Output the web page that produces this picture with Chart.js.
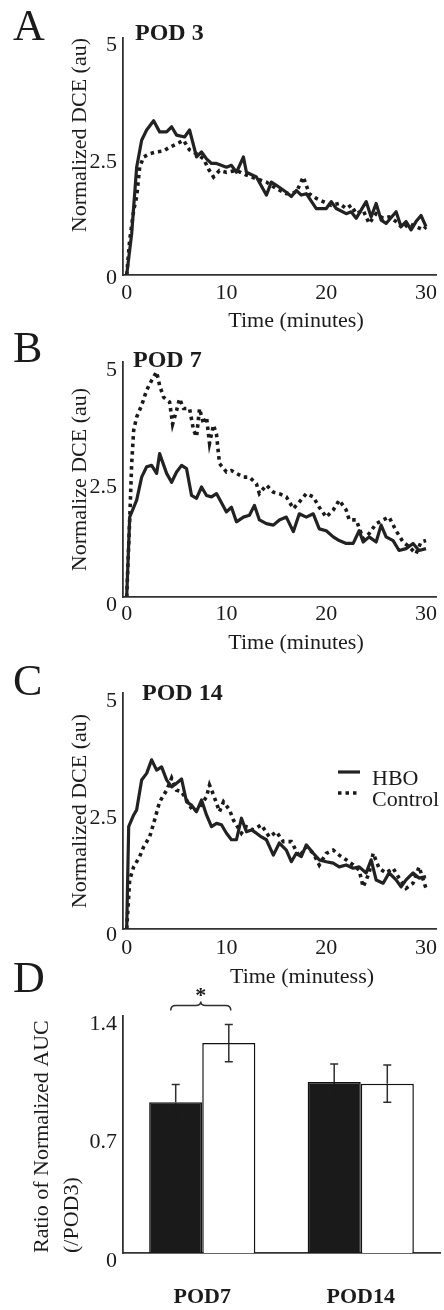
<!DOCTYPE html>
<html>
<head>
<meta charset="utf-8">
<title>Normalized DCE curves and AUC ratio</title>
<script src="https://cdn.jsdelivr.net/npm/chart.js@4.4.1/dist/chart.umd.min.js"></script>
<style>
  html, body { margin: 0; padding: 0; background: #fff; }
  #wrap { position: relative; width: 444px; height: 1310px; overflow: hidden; }
  #wrap canvas { position: absolute; left: 0; }
</style>
</head>
<body>
<div id="wrap">
  <canvas id="podA" width="444" height="340" style="top:0px"></canvas>
  <canvas id="podB" width="444" height="330" style="top:330px"></canvas>
  <canvas id="podC" width="444" height="340" style="top:655px"></canvas>
  <canvas id="aucD" width="444" height="355" style="top:955px"></canvas>
</div>
<script>
/* DCE enhancement curves (A-C) and AUC ratio bars (D) */

// ---- data ----
const seriesNames = ['HBO', 'Control'];
const timeTicks = [0, 10, 20, 30];
const dceTicks = [0, 2.5, 5];
const aucTicks = [0, 0.7, 1.4];

// POD 3
const pod3HboTime = [0, 0.5, 1, 1.5, 2, 2.7, 3.3, 4, 4.5, 5, 5.8, 6.3, 7, 7.5, 8, 8.5, 9, 10, 10.5, 11, 11.7, 12, 13, 14, 14.5, 15, 16, 16.5, 17, 17.5, 18, 19, 20, 20.5, 21, 22, 22.5, 23, 24, 24.5, 25, 25.5, 26, 27, 27.5, 28, 28.5, 29, 29.5, 30];
const pod3HboDce = [0, 0.89, 2.32, 2.90, 3.12, 3.32, 3.08, 3.08, 3.19, 3.01, 2.97, 3.12, 2.54, 2.65, 2.50, 2.40, 2.40, 2.32, 2.36, 2.21, 2.54, 2.21, 2.11, 1.72, 2.00, 1.93, 1.78, 1.69, 1.82, 1.72, 1.75, 1.43, 1.43, 1.58, 1.43, 1.32, 1.36, 1.22, 1.58, 1.25, 1.54, 1.18, 1.11, 1.36, 1.04, 1.15, 0.97, 1.15, 1.28, 1.04];
const pod3CtrlTime = [0, 0.3, 0.7, 1, 1.3, 1.7, 2.3, 3, 3.7, 4.3, 5, 5.7, 6.3, 7, 7.7, 8.2, 8.7, 9.3, 10, 11, 12, 13, 14, 15, 16, 17, 17.7, 18.3, 19, 19.7, 20.5, 21.3, 22, 22.5, 23, 23.7, 24.3, 25, 25.7, 26.3, 27, 27.7, 28.3, 29, 29.7, 30];
const pod3CtrlDce = [0, 0.75, 1.39, 1.69, 2.32, 2.54, 2.61, 2.65, 2.67, 2.75, 2.82, 2.90, 2.69, 2.61, 2.50, 2.28, 2.11, 2.25, 2.21, 2.25, 2.15, 2.07, 2.00, 1.86, 1.75, 1.78, 2.11, 1.75, 1.65, 1.58, 1.50, 1.54, 1.43, 1.50, 1.32, 1.39, 1.11, 1.32, 1.22, 1.25, 1.15, 1.00, 1.11, 1.04, 0.97, 1.04];

// POD 7
const pod7HboTime = [0, 0.3, 1, 1.5, 2, 2.5, 3, 3.3, 4, 4.5, 5, 5.5, 6, 6.5, 7, 7.5, 8, 8.5, 9, 10, 10.5, 11, 11.7, 12.3, 12.8, 13.3, 14, 14.7, 15.3, 16, 16.7, 17.3, 18, 18.7, 19.3, 20, 20.7, 21.3, 22, 22.7, 23.3, 23.7, 24.3, 25, 25.5, 26, 26.7, 27.3, 28, 28.7, 29.3, 30];
const pod7HboDce = [0, 1.70, 2.06, 2.55, 2.77, 2.80, 2.63, 3.05, 2.63, 2.44, 2.66, 2.80, 2.73, 2.16, 2.10, 2.34, 2.16, 2.13, 2.20, 1.81, 1.91, 1.60, 1.70, 1.74, 1.95, 1.64, 1.56, 1.53, 1.64, 1.70, 1.39, 1.77, 1.70, 1.77, 1.45, 1.41, 1.28, 1.20, 1.14, 1.14, 1.41, 1.17, 1.28, 1.17, 1.53, 1.28, 1.20, 0.99, 1.03, 1.14, 0.99, 1.03];
const pod7CtrlTime = [0, 0.3, 0.5, 0.7, 1, 1.5, 2, 2.5, 3, 3.3, 3.7, 4.3, 4.6, 5, 5.3, 5.7, 6.3, 6.7, 7, 7.3, 7.7, 8, 8.3, 8.7, 9, 9.3, 10, 10.5, 11, 11.7, 12.3, 13, 13.3, 14, 14.7, 15.3, 16, 16.7, 17.3, 18, 18.7, 19.3, 20, 20.7, 21.3, 22, 22.3, 23, 23.7, 24.3, 25, 25.7, 26.3, 27, 27.7, 28.3, 29, 29.5, 30];
const pod7CtrlDce = [0, 1.64, 2.84, 3.55, 3.83, 4.08, 4.40, 4.61, 4.79, 4.50, 4.25, 4.15, 3.68, 3.97, 4.22, 4.01, 4.01, 3.55, 3.41, 4.01, 3.68, 3.83, 3.27, 3.66, 3.46, 2.84, 2.66, 2.69, 2.63, 2.55, 2.55, 2.41, 2.20, 2.38, 2.23, 2.20, 2.13, 1.88, 2.02, 2.20, 2.13, 1.91, 1.70, 1.85, 2.06, 1.85, 1.64, 1.64, 1.24, 1.35, 1.56, 1.64, 1.70, 1.41, 1.17, 1.07, 0.92, 1.17, 1.20];

// POD 14
const pod14HboTime = [0, 0.2, 0.7, 1, 1.5, 2, 2.5, 3, 3.5, 4, 4.5, 5, 5.5, 6, 6.5, 7, 7.5, 8, 8.5, 9, 9.5, 10, 10.5, 11, 11.5, 12, 12.5, 13, 13.5, 14, 14.7, 15.3, 16, 16.5, 17, 17.5, 18, 18.7, 19.3, 20, 20.7, 21.3, 22, 22.7, 23.3, 24, 24.5, 25, 25.7, 26.3, 27, 27.5, 28, 28.7, 29.3, 30];
const pod14HboDce = [0, 2.19, 2.44, 2.55, 3.19, 3.33, 3.62, 3.40, 3.47, 3.19, 3.04, 3.12, 3.21, 2.72, 2.65, 2.51, 2.76, 2.44, 2.19, 2.26, 2.23, 2.05, 1.91, 1.91, 2.37, 2.08, 2.12, 2.05, 1.97, 1.91, 1.58, 1.84, 1.69, 1.44, 1.62, 1.55, 1.80, 1.62, 1.48, 1.44, 1.41, 1.33, 1.37, 1.30, 1.33, 1.20, 1.48, 1.05, 0.98, 1.20, 1.05, 0.90, 1.05, 1.20, 1.09, 1.12];
const pod14CtrlTime = [0, 0.3, 0.7, 1.3, 1.7, 2.3, 2.7, 3.3, 4, 4.5, 5, 5.5, 6, 6.3, 6.7, 7.3, 8, 8.3, 8.7, 9.3, 9.7, 10.3, 10.7, 11.5, 12, 12.7, 13.5, 14.3, 15, 15.7, 16.5, 17.3, 18, 18.7, 19.3, 20, 20.7, 21.3, 22, 22.7, 23.3, 23.7, 24.3, 24.7, 25.3, 26, 26.7, 27.3, 28, 28.7, 29.3, 30];
const pod14CtrlDce = [0, 1.05, 1.33, 1.55, 1.76, 1.97, 2.26, 2.72, 2.97, 3.23, 2.97, 2.94, 2.76, 2.65, 2.51, 2.61, 2.83, 3.08, 2.87, 2.51, 2.72, 2.55, 2.33, 2.05, 2.19, 2.12, 2.23, 1.97, 2.08, 1.87, 1.87, 1.55, 1.76, 1.62, 1.37, 1.62, 1.69, 1.58, 1.48, 1.37, 1.26, 0.90, 1.20, 1.62, 1.30, 1.20, 1.30, 1.09, 0.87, 0.98, 1.33, 0.87];

// Ratio of normalized AUC (/POD3)
const aucGroups = ['POD7', 'POD14'];
const aucHbo = [0.89, 1.01];
const aucHboErr = [0.105, 0.107];
const aucCtrl = [1.24, 1.00];
const aucCtrlErr = [0.11, 0.11];

// ---- shared look ----
const SERIF = '"Liberation Serif", "Times New Roman", serif';
const INK = '#1b1b1b';
Chart.defaults.font.family = SERIF;
Chart.defaults.color = INK;

const toPoints = (times, vals) => times.map((t, i) => ({ x: t, y: vals[i] }));

// Panel letter, bold POD title, x-axis title and (optional) legend
const panelLabels = {
  id: 'panelLabels',
  afterDraw(chart, args, opts) {
    const ctx = chart.ctx;
    ctx.save();
    ctx.fillStyle = INK;
    ctx.textAlign = 'left';
    ctx.textBaseline = 'alphabetic';
    ctx.font = `44px ${SERIF}`;
    ctx.fillText(opts.letter, 13, opts.letterY);
    if (opts.title) {
      ctx.font = `bold 24px ${SERIF}`;
      ctx.fillText(opts.title, opts.titleX, opts.titleY);
    }
    if (opts.xTitle) {
      ctx.font = `22px ${SERIF}`;
      ctx.textAlign = 'center';
      ctx.textBaseline = 'middle';
      ctx.fillText(opts.xTitle, opts.xTitleX, opts.xTitleY);
    }
    if (opts.legendY) {
      ctx.textAlign = 'left';
      ctx.font = `22px ${SERIF}`;
      chart.data.datasets.forEach((ds, i) => {
        const y = opts.legendY + i * 21;
        ctx.beginPath();
        ctx.setLineDash(ds.borderDash || []);
        ctx.lineWidth = ds.borderWidth;
        ctx.strokeStyle = ds.borderColor;
        ctx.moveTo(338, y);
        ctx.lineTo(360, y);
        ctx.stroke();
        ctx.setLineDash([]);
        ctx.fillText(ds.label, 372, y + 7);
      });
    }
    ctx.restore();
  }
};

// Error bars + significance brace for the AUC bars
const errorBars = {
  id: 'errorBars',
  afterDatasetsDraw(chart) {
    const ctx = chart.ctx;
    const y = chart.scales.y;
    ctx.save();
    ctx.lineWidth = 1.5;
    chart.data.datasets.forEach((ds, i) => {
      // lower whisker disappears inside the dark bars
      const lowColor = ds.backgroundColor === '#ffffff' ? '#2e2e2e' : ds.backgroundColor;
      chart.getDatasetMeta(i).data.forEach((bar, j) => {
        const top = y.getPixelForValue(ds.data[j] + ds.errors[j]);
        const bot = y.getPixelForValue(ds.data[j] - ds.errors[j]);
        ctx.strokeStyle = '#2e2e2e';
        ctx.beginPath();
        ctx.moveTo(bar.x, top); ctx.lineTo(bar.x, bar.y);
        ctx.moveTo(bar.x - 4, top); ctx.lineTo(bar.x + 4, top);
        ctx.stroke();
        ctx.strokeStyle = lowColor;
        ctx.beginPath();
        ctx.moveTo(bar.x, bar.y + 1); ctx.lineTo(bar.x, bot);
        ctx.moveTo(bar.x - 4, bot); ctx.lineTo(bar.x + 4, bot);
        ctx.stroke();
      });
    });

    // brace over POD7 pair with asterisk
    const left = chart.getDatasetMeta(0).data[0].x - 5;
    const right = chart.getDatasetMeta(1).data[0].x + 2;
    const mid = (left + right) / 2;
    const arm = y.getPixelForValue(aucCtrl[0] + aucCtrlErr[0]) - 19;
    ctx.strokeStyle = '#2e2e2e';
    ctx.beginPath();
    ctx.moveTo(left, arm + 5);
    ctx.quadraticCurveTo(left, arm, left + 5, arm);
    ctx.lineTo(mid - 5, arm);
    ctx.quadraticCurveTo(mid, arm, mid, arm - 4);
    ctx.quadraticCurveTo(mid, arm, mid + 5, arm);
    ctx.lineTo(right - 5, arm);
    ctx.quadraticCurveTo(right, arm, right, arm + 5);
    ctx.stroke();
    ctx.fillStyle = INK;
    ctx.font = `bold 22px ${SERIF}`;
    ctx.textAlign = 'center';
    ctx.fillText('*', mid, arm - 3);
    ctx.restore();
  }
};

function lineChart(id, p) {
  return new Chart(document.getElementById(id), {
    type: 'line',
    data: {
      datasets: [
        {
          label: seriesNames[0],
          data: toPoints(p.hboTime, p.hboDce),
          borderColor: '#222',
          borderWidth: 3.2,
          borderJoinStyle: 'round',
          pointRadius: 0,
          tension: 0
        },
        {
          label: seriesNames[1],
          data: toPoints(p.ctrlTime, p.ctrlDce),
          borderColor: '#1a1a1a',
          borderWidth: 3.6,
          borderDash: [3.5, 4],
          pointRadius: 0,
          tension: 0
        }
      ]
    },
    options: {
      responsive: false,
      animation: false,
      devicePixelRatio: 1,
      layout: { padding: { top: p.top, right: 8, bottom: 0, left: 0 } },
      plugins: {
        legend: { display: false },
        tooltip: { enabled: false },
        panelLabels: p.labels
      },
      scales: {
        x: {
          type: 'linear',
          min: -0.37,
          max: 31,
          afterBuildTicks: (axis) => { axis.ticks = timeTicks.map(v => ({ value: v })); },
          afterFit: (axis) => { axis.height = p.xHeight; },
          grid: { display: false, drawTicks: false },
          border: { display: true, color: '#333', width: 1.8 },
          ticks: { font: { size: 22 }, padding: p.xPad, maxRotation: 0, callback: v => String(v) }
        },
        y: {
          min: 0,
          max: p.yMax,
          afterBuildTicks: (axis) => { axis.ticks = dceTicks.map(v => ({ value: v })); },
          afterFit: (axis) => { axis.width = 123; },
          grid: { display: false, drawTicks: false },
          border: { display: true, color: '#333', width: 1.8 },
          ticks: { font: { size: 22 }, padding: 6, labelOffset: p.yLabelOffset, callback: v => String(v) },
          title: {
            display: true,
            text: p.yTitle,
            align: p.yTitleAlign,
            font: { size: 22, lineHeight: 1.2 },
            padding: { top: 67, bottom: 0 }
          }
        }
      }
    },
    plugins: [panelLabels]
  });
}

lineChart('podA', {
  hboTime: pod3HboTime, hboDce: pod3HboDce, ctrlTime: pod3CtrlTime, ctrlDce: pod3CtrlDce,
  top: 38, xHeight: 65, xPad: 5, yMax: 5.1, yLabelOffset: 3,
  yTitle: 'Normalized DCE (au)', yTitleAlign: 'end',
  labels: { letter: 'A', letterY: 40, title: 'POD 3', titleX: 135, titleY: 40,
            xTitle: 'Time (minutes)', xTitleX: 296, xTitleY: 321 }
});

lineChart('podB', {
  hboTime: pod7HboTime, hboDce: pod7HboDce, ctrlTime: pod7CtrlTime, ctrlDce: pod7CtrlDce,
  top: 32, xHeight: 63, xPad: 4, yMax: 5.0, yLabelOffset: 8,
  yTitle: 'Normalize DCE (au)', yTitleAlign: 'center',
  labels: { letter: 'B', letterY: 32, title: 'POD 7', titleX: 133, titleY: 37,
            xTitle: 'Time (minutes)', xTitleX: 296, xTitleY: 313 }
});

lineChart('podC', {
  hboTime: pod14HboTime, hboDce: pod14HboDce, ctrlTime: pod14CtrlTime, ctrlDce: pod14CtrlDce,
  top: 38, xHeight: 66, xPad: 6, yMax: 5.05, yLabelOffset: 6,
  yTitle: 'Normalized DCE (au)', yTitleAlign: 'center',
  labels: { letter: 'C', letterY: 40, title: 'POD 14', titleX: 142, titleY: 45,
            xTitle: 'Time (minutess)', xTitleX: 302, xTitleY: 322, legendY: 117 }
});

// D: ratio of normalized AUC
new Chart(document.getElementById('aucD'), {
  type: 'bar',
  data: {
    labels: aucGroups,
    datasets: [
      {
        label: seriesNames[0],
        data: aucHbo,
        errors: aucHboErr,
        backgroundColor: '#1a1a1a',
        borderColor: '#111',
        borderWidth: 1.5
      },
      {
        label: seriesNames[1],
        data: aucCtrl,
        errors: aucCtrlErr,
        backgroundColor: '#ffffff',
        borderColor: '#111',
        borderWidth: 1.5
      }
    ]
  },
  options: {
    responsive: false,
    animation: false,
    devicePixelRatio: 1,
    layout: { padding: { top: 61, right: 4, bottom: 0, left: 0 } },
    datasets: { bar: { categoryPercentage: 0.67, barPercentage: 1.0 } },
    plugins: {
      legend: { display: false },
      tooltip: { enabled: false },
      panelLabels: { letter: 'D', letterY: 37 }
    },
    scales: {
      x: {
        afterFit: (axis) => { axis.height = 57; },
        grid: { display: false, drawTicks: false },
        border: { display: true, color: '#333', width: 1.8 },
        ticks: { font: { size: 22, weight: 'bold' }, padding: 31 }
      },
      y: {
        min: 0,
        max: 1.4,
        afterBuildTicks: (axis) => { axis.ticks = aucTicks.map(v => ({ value: v })); },
        afterFit: (axis) => { axis.width = 123; },
        grid: { display: false, drawTicks: false },
        border: { display: true, color: '#333', width: 1.8 },
        ticks: { font: { size: 22 }, padding: 6, labelOffset: 8, callback: v => String(v) },
        title: {
          display: true,
          text: ['Ratio of Normalized AUC', '(/POD3)'],
          align: 'start',
          font: { size: 22, lineHeight: 1.36 },
          padding: { top: 27, bottom: 0 }
        }
      }
    }
  },
  plugins: [errorBars, panelLabels]
});
</script>
</body>
</html>
